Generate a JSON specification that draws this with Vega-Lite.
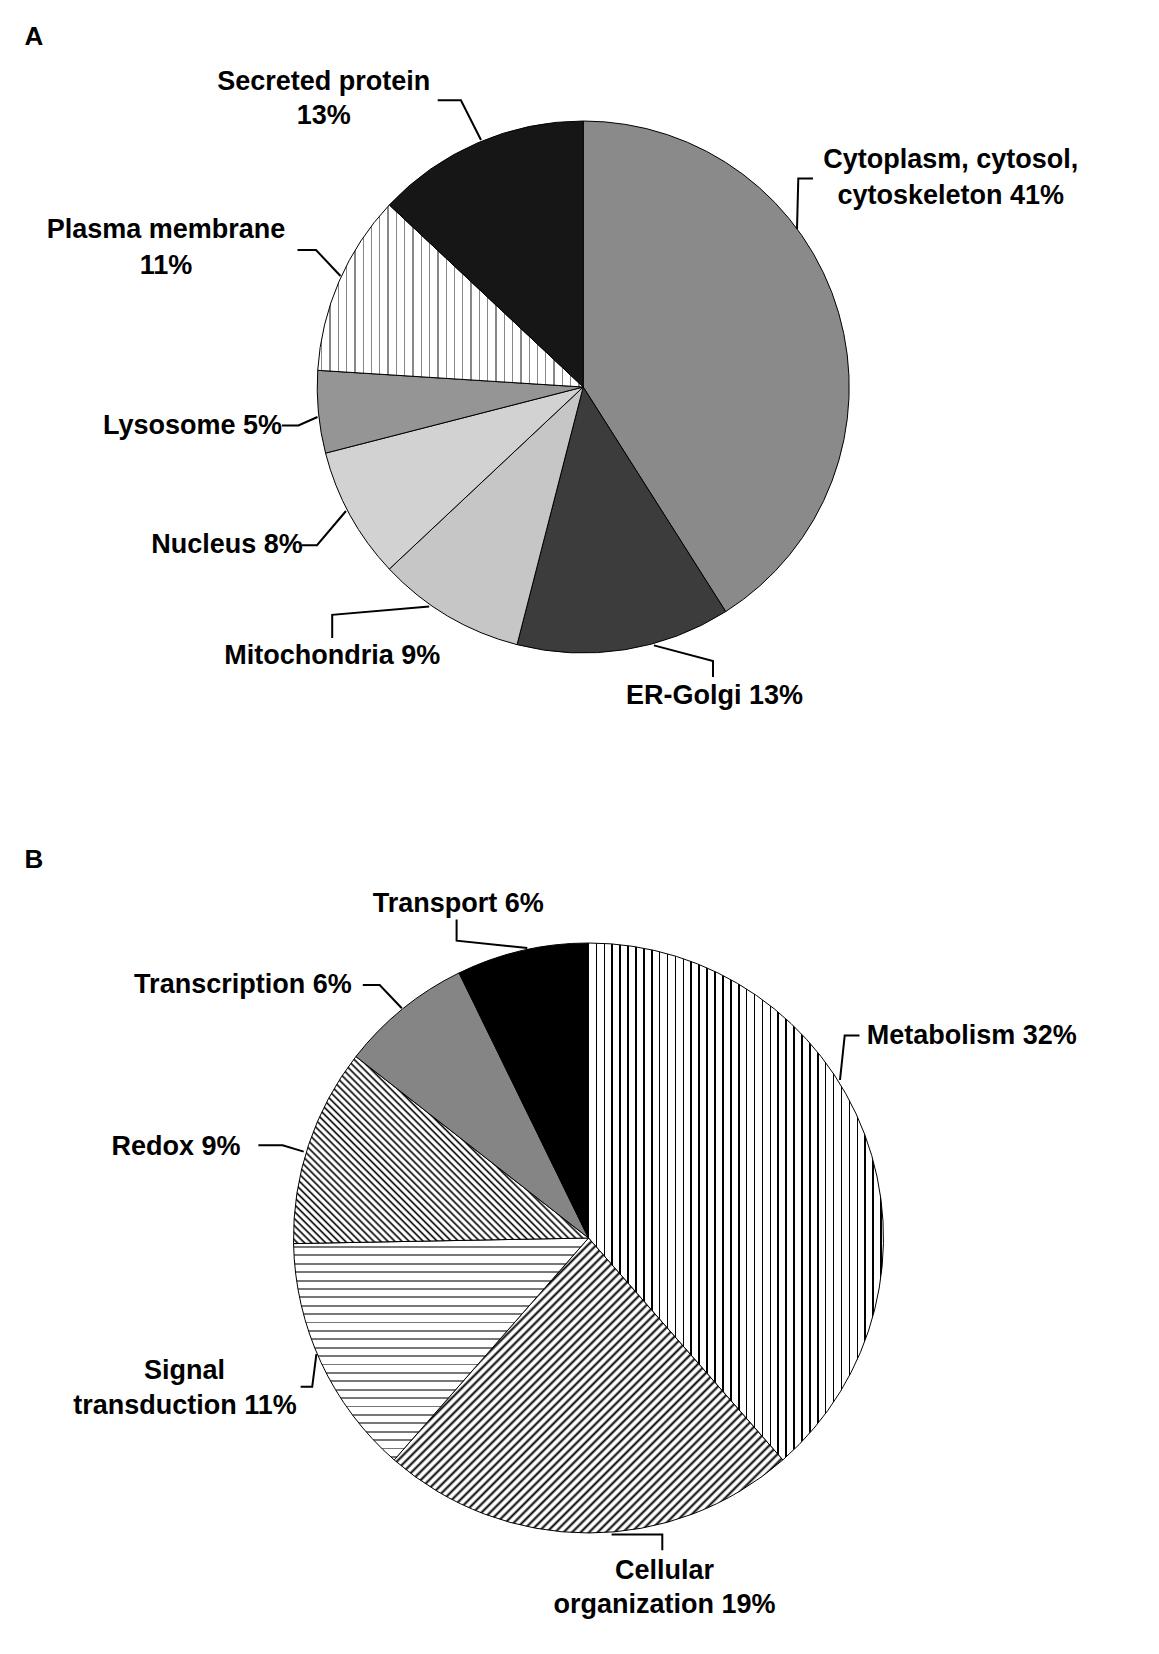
{
  "$schema": "https://vega.github.io/schema/vega-lite/v6.json",
  "width": 1159,
  "height": 1654,
  "padding": 0,
  "autosize": {"type": "none"},
  "background": "white",
  "config": {"view": {"stroke": null}},
  "datasets": {
    "slices": [
      {"panel": "A", "order": 1, "name": "Cytoplasm, cytosol, cytoskeleton", "value": 41},
      {"panel": "A", "order": 2, "name": "ER-Golgi", "value": 13},
      {"panel": "A", "order": 3, "name": "Mitochondria", "value": 9},
      {"panel": "A", "order": 4, "name": "Nucleus", "value": 8},
      {"panel": "A", "order": 5, "name": "Lysosome", "value": 5},
      {"panel": "A", "order": 6, "name": "Plasma membrane", "value": 11},
      {"panel": "A", "order": 7, "name": "Secreted protein", "value": 13},
      {"panel": "B", "order": 1, "name": "Metabolism", "value": 32},
      {"panel": "B", "order": 2, "name": "Cellular organization", "value": 19},
      {"panel": "B", "order": 3, "name": "Signal transduction", "value": 11},
      {"panel": "B", "order": 4, "name": "Redox", "value": 9},
      {"panel": "B", "order": 5, "name": "Transcription", "value": 6},
      {"panel": "B", "order": 6, "name": "Transport", "value": 6}
    ],
    "labels": [
      {"text": "Secreted protein", "x": 323.8, "y": 82.3},
      {"text": "13%", "x": 323.8, "y": 116},
      {"text": "Cytoplasm, cytosol,", "x": 950.7, "y": 160},
      {"text": "cytoskeleton 41%", "x": 950.7, "y": 196},
      {"text": "Plasma membrane", "x": 166, "y": 230},
      {"text": "11%", "x": 166, "y": 265.8},
      {"text": "Lysosome 5%", "x": 192.5, "y": 426},
      {"text": "Nucleus 8%", "x": 227.1, "y": 545.2},
      {"text": "Mitochondria 9%", "x": 332.2, "y": 656},
      {"text": "ER-Golgi 13%", "x": 714.5, "y": 696},
      {"text": "Transport 6%", "x": 458.2, "y": 903.8},
      {"text": "Transcription 6%", "x": 242.9, "y": 985},
      {"text": "Metabolism 32%", "x": 971.8, "y": 1035.6},
      {"text": "Redox 9%", "x": 175.9, "y": 1147.4},
      {"text": "Signal", "x": 184.6, "y": 1371},
      {"text": "transduction 11%", "x": 185.1, "y": 1405.8},
      {"text": "Cellular", "x": 664.4, "y": 1571.4},
      {"text": "organization 19%", "x": 664.4, "y": 1605.1}
    ],
    "panels": [
      {"text": "A", "x": 34, "y": 37},
      {"text": "B", "x": 34, "y": 860}
    ],
    "leaders": [
      {"id": "sec", "seq": 1, "x": 437.7, "y": 100.2},
      {"id": "sec", "seq": 2, "x": 460.9, "y": 100.2},
      {"id": "sec", "seq": 3, "x": 481, "y": 140},
      {"id": "cyt", "seq": 1, "x": 813, "y": 178.5},
      {"id": "cyt", "seq": 2, "x": 798.3, "y": 178.5},
      {"id": "cyt", "seq": 3, "x": 797, "y": 229},
      {"id": "pla", "seq": 1, "x": 297.5, "y": 250},
      {"id": "pla", "seq": 2, "x": 316, "y": 250},
      {"id": "pla", "seq": 3, "x": 340.5, "y": 276},
      {"id": "lys", "seq": 1, "x": 282, "y": 425.5},
      {"id": "lys", "seq": 2, "x": 298.4, "y": 425.5},
      {"id": "lys", "seq": 3, "x": 317.5, "y": 417},
      {"id": "nuc", "seq": 1, "x": 302, "y": 545.2},
      {"id": "nuc", "seq": 2, "x": 317, "y": 545.2},
      {"id": "nuc", "seq": 3, "x": 346, "y": 511},
      {"id": "mit", "seq": 1, "x": 332.2, "y": 638},
      {"id": "mit", "seq": 2, "x": 332.2, "y": 614.8},
      {"id": "mit", "seq": 3, "x": 429.2, "y": 606.4},
      {"id": "erg", "seq": 1, "x": 713, "y": 677},
      {"id": "erg", "seq": 2, "x": 713, "y": 661},
      {"id": "erg", "seq": 3, "x": 653.9, "y": 645.4},
      {"id": "tra", "seq": 1, "x": 456.6, "y": 919.6},
      {"id": "tra", "seq": 2, "x": 456.6, "y": 940.7},
      {"id": "tra", "seq": 3, "x": 527.3, "y": 948.1},
      {"id": "tsc", "seq": 1, "x": 362.8, "y": 985},
      {"id": "tsc", "seq": 2, "x": 379.7, "y": 985},
      {"id": "tsc", "seq": 3, "x": 401.8, "y": 1008.2},
      {"id": "met", "seq": 1, "x": 859.5, "y": 1035.6},
      {"id": "met", "seq": 2, "x": 844.7, "y": 1035.6},
      {"id": "met", "seq": 3, "x": 840, "y": 1080},
      {"id": "red", "seq": 1, "x": 258.4, "y": 1145.3},
      {"id": "red", "seq": 2, "x": 282.6, "y": 1145.3},
      {"id": "red", "seq": 3, "x": 303.7, "y": 1151.6},
      {"id": "sig", "seq": 1, "x": 300.6, "y": 1386.8},
      {"id": "sig", "seq": 2, "x": 312.2, "y": 1386.8},
      {"id": "sig", "seq": 3, "x": 316.4, "y": 1354.1},
      {"id": "cel", "seq": 1, "x": 611.6, "y": 1534.4},
      {"id": "cel", "seq": 2, "x": 662.3, "y": 1534.4},
      {"id": "cel", "seq": 3, "x": 662.3, "y": 1550.3}
    ]
  },
  "layer": [
    {
      "data": {"name": "slices"},
      "transform": [{"filter": "datum.panel === 'A'"}],
      "mark": {"type": "arc", "radius": 266, "stroke": "#000", "strokeWidth": 1},
      "encoding": {
        "x": {"datum": 583.2, "type": "quantitative", "scale": {"domain": [0, 1159], "nice": false, "zero": false}, "axis": null},
        "y": {"datum": 387, "type": "quantitative", "scale": {"domain": [0, 1654], "reverse": true, "nice": false, "zero": false}, "axis": null},
        "theta": {"field": "value", "type": "quantitative", "stack": true},
        "order": {"field": "order", "type": "quantitative"},
        "fill": {
          "condition": [
            {"test": "datum.name === 'Plasma membrane'", "value": {"gradient": "linear", "x1": 0, "y1": 0, "x2": 1, "y2": 0, "stops": [
              {"offset": 0.0125, "color": "#fff"}, {"offset": 0.0125, "color": "#888"}, {"offset": 0.0175, "color": "#888"}, {"offset": 0.0175, "color": "#fff"},
              {"offset": 0.0438, "color": "#fff"}, {"offset": 0.0438, "color": "#888"}, {"offset": 0.0488, "color": "#888"}, {"offset": 0.0488, "color": "#fff"},
              {"offset": 0.0750, "color": "#fff"}, {"offset": 0.0750, "color": "#888"}, {"offset": 0.0800, "color": "#888"}, {"offset": 0.0800, "color": "#fff"},
              {"offset": 0.1063, "color": "#fff"}, {"offset": 0.1063, "color": "#888"}, {"offset": 0.1113, "color": "#888"}, {"offset": 0.1113, "color": "#fff"},
              {"offset": 0.1375, "color": "#fff"}, {"offset": 0.1375, "color": "#888"}, {"offset": 0.1425, "color": "#888"}, {"offset": 0.1425, "color": "#fff"},
              {"offset": 0.1688, "color": "#fff"}, {"offset": 0.1688, "color": "#888"}, {"offset": 0.1738, "color": "#888"}, {"offset": 0.1738, "color": "#fff"},
              {"offset": 0.2001, "color": "#fff"}, {"offset": 0.2001, "color": "#888"}, {"offset": 0.2051, "color": "#888"}, {"offset": 0.2051, "color": "#fff"},
              {"offset": 0.2313, "color": "#fff"}, {"offset": 0.2313, "color": "#888"}, {"offset": 0.2363, "color": "#888"}, {"offset": 0.2363, "color": "#fff"},
              {"offset": 0.2626, "color": "#fff"}, {"offset": 0.2626, "color": "#888"}, {"offset": 0.2676, "color": "#888"}, {"offset": 0.2676, "color": "#fff"},
              {"offset": 0.2938, "color": "#fff"}, {"offset": 0.2938, "color": "#888"}, {"offset": 0.2988, "color": "#888"}, {"offset": 0.2988, "color": "#fff"},
              {"offset": 0.3251, "color": "#fff"}, {"offset": 0.3251, "color": "#888"}, {"offset": 0.3301, "color": "#888"}, {"offset": 0.3301, "color": "#fff"},
              {"offset": 0.3564, "color": "#fff"}, {"offset": 0.3564, "color": "#888"}, {"offset": 0.3614, "color": "#888"}, {"offset": 0.3614, "color": "#fff"},
              {"offset": 0.3876, "color": "#fff"}, {"offset": 0.3876, "color": "#888"}, {"offset": 0.3926, "color": "#888"}, {"offset": 0.3926, "color": "#fff"},
              {"offset": 0.4189, "color": "#fff"}, {"offset": 0.4189, "color": "#888"}, {"offset": 0.4239, "color": "#888"}, {"offset": 0.4239, "color": "#fff"},
              {"offset": 0.4501, "color": "#fff"}, {"offset": 0.4501, "color": "#888"}, {"offset": 0.4551, "color": "#888"}, {"offset": 0.4551, "color": "#fff"},
              {"offset": 0.4814, "color": "#fff"}, {"offset": 0.4814, "color": "#888"}, {"offset": 0.4864, "color": "#888"}, {"offset": 0.4864, "color": "#fff"},
              {"offset": 0.5127, "color": "#fff"}, {"offset": 0.5127, "color": "#888"}, {"offset": 0.5177, "color": "#888"}, {"offset": 0.5177, "color": "#fff"},
              {"offset": 0.5439, "color": "#fff"}, {"offset": 0.5439, "color": "#888"}, {"offset": 0.5489, "color": "#888"}, {"offset": 0.5489, "color": "#fff"},
              {"offset": 0.5752, "color": "#fff"}, {"offset": 0.5752, "color": "#888"}, {"offset": 0.5802, "color": "#888"}, {"offset": 0.5802, "color": "#fff"},
              {"offset": 0.6064, "color": "#fff"}, {"offset": 0.6064, "color": "#888"}, {"offset": 0.6114, "color": "#888"}, {"offset": 0.6114, "color": "#fff"},
              {"offset": 0.6377, "color": "#fff"}, {"offset": 0.6377, "color": "#888"}, {"offset": 0.6427, "color": "#888"}, {"offset": 0.6427, "color": "#fff"},
              {"offset": 0.6690, "color": "#fff"}, {"offset": 0.6690, "color": "#888"}, {"offset": 0.6740, "color": "#888"}, {"offset": 0.6740, "color": "#fff"},
              {"offset": 0.7002, "color": "#fff"}, {"offset": 0.7002, "color": "#888"}, {"offset": 0.7052, "color": "#888"}, {"offset": 0.7052, "color": "#fff"},
              {"offset": 0.7315, "color": "#fff"}, {"offset": 0.7315, "color": "#888"}, {"offset": 0.7365, "color": "#888"}, {"offset": 0.7365, "color": "#fff"},
              {"offset": 0.7627, "color": "#fff"}, {"offset": 0.7627, "color": "#888"}, {"offset": 0.7677, "color": "#888"}, {"offset": 0.7677, "color": "#fff"},
              {"offset": 0.7940, "color": "#fff"}, {"offset": 0.7940, "color": "#888"}, {"offset": 0.7990, "color": "#888"}, {"offset": 0.7990, "color": "#fff"},
              {"offset": 0.8253, "color": "#fff"}, {"offset": 0.8253, "color": "#888"}, {"offset": 0.8303, "color": "#888"}, {"offset": 0.8303, "color": "#fff"},
              {"offset": 0.8565, "color": "#fff"}, {"offset": 0.8565, "color": "#888"}, {"offset": 0.8615, "color": "#888"}, {"offset": 0.8615, "color": "#fff"},
              {"offset": 0.8878, "color": "#fff"}, {"offset": 0.8878, "color": "#888"}, {"offset": 0.8928, "color": "#888"}, {"offset": 0.8928, "color": "#fff"},
              {"offset": 0.9190, "color": "#fff"}, {"offset": 0.9190, "color": "#888"}, {"offset": 0.9240, "color": "#888"}, {"offset": 0.9240, "color": "#fff"},
              {"offset": 0.9503, "color": "#fff"}, {"offset": 0.9503, "color": "#888"}, {"offset": 0.9553, "color": "#888"}, {"offset": 0.9553, "color": "#fff"},
              {"offset": 0.9816, "color": "#fff"}, {"offset": 0.9816, "color": "#888"}, {"offset": 0.9866, "color": "#888"}, {"offset": 0.9866, "color": "#fff"}
            ]}}
          ],
          "field": "name",
          "type": "nominal",
          "legend": null,
          "scale": {
            "domain": ["Cytoplasm, cytosol, cytoskeleton", "ER-Golgi", "Mitochondria", "Nucleus", "Lysosome", "Plasma membrane", "Secreted protein", "Metabolism", "Cellular organization", "Signal transduction", "Redox", "Transcription", "Transport"],
            "range": ["#8a8a8a", "#3c3c3c", "#c6c6c6", "#d2d2d2", "#959595", "#eeeeee", "#161616", "#dddddd", "#9a9a9a", "#e2e2e2", "#a4a4a4", "#858585", "#000000"]
          }
        }
      }
    },
    {
      "data": {"name": "slices"},
      "transform": [{"filter": "datum.panel === 'B'"}],
      "mark": {"type": "arc", "radius": 295, "stroke": "#000", "strokeWidth": 1},
      "encoding": {
        "x": {"datum": 588.5, "type": "quantitative", "scale": {"domain": [0, 1159], "nice": false, "zero": false}, "axis": null},
        "y": {"datum": 1238, "type": "quantitative", "scale": {"domain": [0, 1654], "reverse": true, "nice": false, "zero": false}, "axis": null},
        "theta": {"field": "value", "type": "quantitative", "stack": true},
        "order": {"field": "order", "type": "quantitative"},
        "fill": {
          "condition": [
            {"test": "datum.name === 'Metabolism'", "value": {"gradient": "linear", "x1": 0, "y1": 0, "x2": 1, "y2": 0, "stops": [
              {"offset": 0.0241, "color": "#fff"}, {"offset": 0.0241, "color": "#000"}, {"offset": 0.0295, "color": "#000"}, {"offset": 0.0295, "color": "#fff"},
              {"offset": 0.0509, "color": "#fff"}, {"offset": 0.0509, "color": "#000"}, {"offset": 0.0563, "color": "#000"}, {"offset": 0.0563, "color": "#fff"},
              {"offset": 0.0777, "color": "#fff"}, {"offset": 0.0777, "color": "#000"}, {"offset": 0.0831, "color": "#000"}, {"offset": 0.0831, "color": "#fff"},
              {"offset": 0.1045, "color": "#fff"}, {"offset": 0.1045, "color": "#000"}, {"offset": 0.1099, "color": "#000"}, {"offset": 0.1099, "color": "#fff"},
              {"offset": 0.1313, "color": "#fff"}, {"offset": 0.1313, "color": "#000"}, {"offset": 0.1367, "color": "#000"}, {"offset": 0.1367, "color": "#fff"},
              {"offset": 0.1581, "color": "#fff"}, {"offset": 0.1581, "color": "#000"}, {"offset": 0.1635, "color": "#000"}, {"offset": 0.1635, "color": "#fff"},
              {"offset": 0.1849, "color": "#fff"}, {"offset": 0.1849, "color": "#000"}, {"offset": 0.1903, "color": "#000"}, {"offset": 0.1903, "color": "#fff"},
              {"offset": 0.2117, "color": "#fff"}, {"offset": 0.2117, "color": "#000"}, {"offset": 0.2171, "color": "#000"}, {"offset": 0.2171, "color": "#fff"},
              {"offset": 0.2385, "color": "#fff"}, {"offset": 0.2385, "color": "#000"}, {"offset": 0.2439, "color": "#000"}, {"offset": 0.2439, "color": "#fff"},
              {"offset": 0.2653, "color": "#fff"}, {"offset": 0.2653, "color": "#000"}, {"offset": 0.2707, "color": "#000"}, {"offset": 0.2707, "color": "#fff"},
              {"offset": 0.2921, "color": "#fff"}, {"offset": 0.2921, "color": "#000"}, {"offset": 0.2975, "color": "#000"}, {"offset": 0.2975, "color": "#fff"},
              {"offset": 0.3189, "color": "#fff"}, {"offset": 0.3189, "color": "#000"}, {"offset": 0.3243, "color": "#000"}, {"offset": 0.3243, "color": "#fff"},
              {"offset": 0.3457, "color": "#fff"}, {"offset": 0.3457, "color": "#000"}, {"offset": 0.3511, "color": "#000"}, {"offset": 0.3511, "color": "#fff"},
              {"offset": 0.3725, "color": "#fff"}, {"offset": 0.3725, "color": "#000"}, {"offset": 0.3779, "color": "#000"}, {"offset": 0.3779, "color": "#fff"},
              {"offset": 0.3993, "color": "#fff"}, {"offset": 0.3993, "color": "#000"}, {"offset": 0.4047, "color": "#000"}, {"offset": 0.4047, "color": "#fff"},
              {"offset": 0.4261, "color": "#fff"}, {"offset": 0.4261, "color": "#000"}, {"offset": 0.4315, "color": "#000"}, {"offset": 0.4315, "color": "#fff"},
              {"offset": 0.4529, "color": "#fff"}, {"offset": 0.4529, "color": "#000"}, {"offset": 0.4583, "color": "#000"}, {"offset": 0.4583, "color": "#fff"},
              {"offset": 0.4797, "color": "#fff"}, {"offset": 0.4797, "color": "#000"}, {"offset": 0.4851, "color": "#000"}, {"offset": 0.4851, "color": "#fff"},
              {"offset": 0.5065, "color": "#fff"}, {"offset": 0.5065, "color": "#000"}, {"offset": 0.5119, "color": "#000"}, {"offset": 0.5119, "color": "#fff"},
              {"offset": 0.5333, "color": "#fff"}, {"offset": 0.5333, "color": "#000"}, {"offset": 0.5387, "color": "#000"}, {"offset": 0.5387, "color": "#fff"},
              {"offset": 0.5601, "color": "#fff"}, {"offset": 0.5601, "color": "#000"}, {"offset": 0.5655, "color": "#000"}, {"offset": 0.5655, "color": "#fff"},
              {"offset": 0.5869, "color": "#fff"}, {"offset": 0.5869, "color": "#000"}, {"offset": 0.5923, "color": "#000"}, {"offset": 0.5923, "color": "#fff"},
              {"offset": 0.6137, "color": "#fff"}, {"offset": 0.6137, "color": "#000"}, {"offset": 0.6191, "color": "#000"}, {"offset": 0.6191, "color": "#fff"},
              {"offset": 0.6405, "color": "#fff"}, {"offset": 0.6405, "color": "#000"}, {"offset": 0.6459, "color": "#000"}, {"offset": 0.6459, "color": "#fff"},
              {"offset": 0.6673, "color": "#fff"}, {"offset": 0.6673, "color": "#000"}, {"offset": 0.6727, "color": "#000"}, {"offset": 0.6727, "color": "#fff"},
              {"offset": 0.6941, "color": "#fff"}, {"offset": 0.6941, "color": "#000"}, {"offset": 0.6995, "color": "#000"}, {"offset": 0.6995, "color": "#fff"},
              {"offset": 0.7209, "color": "#fff"}, {"offset": 0.7209, "color": "#000"}, {"offset": 0.7263, "color": "#000"}, {"offset": 0.7263, "color": "#fff"},
              {"offset": 0.7477, "color": "#fff"}, {"offset": 0.7477, "color": "#000"}, {"offset": 0.7531, "color": "#000"}, {"offset": 0.7531, "color": "#fff"},
              {"offset": 0.7745, "color": "#fff"}, {"offset": 0.7745, "color": "#000"}, {"offset": 0.7799, "color": "#000"}, {"offset": 0.7799, "color": "#fff"},
              {"offset": 0.8013, "color": "#fff"}, {"offset": 0.8013, "color": "#000"}, {"offset": 0.8067, "color": "#000"}, {"offset": 0.8067, "color": "#fff"},
              {"offset": 0.8281, "color": "#fff"}, {"offset": 0.8281, "color": "#000"}, {"offset": 0.8335, "color": "#000"}, {"offset": 0.8335, "color": "#fff"},
              {"offset": 0.8549, "color": "#fff"}, {"offset": 0.8549, "color": "#000"}, {"offset": 0.8603, "color": "#000"}, {"offset": 0.8603, "color": "#fff"},
              {"offset": 0.8817, "color": "#fff"}, {"offset": 0.8817, "color": "#000"}, {"offset": 0.8871, "color": "#000"}, {"offset": 0.8871, "color": "#fff"},
              {"offset": 0.9085, "color": "#fff"}, {"offset": 0.9085, "color": "#000"}, {"offset": 0.9139, "color": "#000"}, {"offset": 0.9139, "color": "#fff"},
              {"offset": 0.9353, "color": "#fff"}, {"offset": 0.9353, "color": "#000"}, {"offset": 0.9407, "color": "#000"}, {"offset": 0.9407, "color": "#fff"},
              {"offset": 0.9621, "color": "#fff"}, {"offset": 0.9621, "color": "#000"}, {"offset": 0.9675, "color": "#000"}, {"offset": 0.9675, "color": "#fff"},
              {"offset": 0.9889, "color": "#fff"}, {"offset": 0.9889, "color": "#000"}, {"offset": 0.9943, "color": "#000"}, {"offset": 0.9943, "color": "#fff"}
            ]}},
            {"test": "datum.name === 'Signal transduction'", "value": {"gradient": "linear", "x1": 0, "y1": 0, "x2": 0, "y2": 1, "stops": [
              {"offset": 0.0364, "color": "#fff"}, {"offset": 0.0364, "color": "#777"}, {"offset": 0.0446, "color": "#777"}, {"offset": 0.0446, "color": "#fff"},
              {"offset": 0.0743, "color": "#fff"}, {"offset": 0.0743, "color": "#777"}, {"offset": 0.0825, "color": "#777"}, {"offset": 0.0825, "color": "#fff"},
              {"offset": 0.1121, "color": "#fff"}, {"offset": 0.1121, "color": "#777"}, {"offset": 0.1203, "color": "#777"}, {"offset": 0.1203, "color": "#fff"},
              {"offset": 0.1500, "color": "#fff"}, {"offset": 0.1500, "color": "#777"}, {"offset": 0.1582, "color": "#777"}, {"offset": 0.1582, "color": "#fff"},
              {"offset": 0.1878, "color": "#fff"}, {"offset": 0.1878, "color": "#777"}, {"offset": 0.1960, "color": "#777"}, {"offset": 0.1960, "color": "#fff"},
              {"offset": 0.2256, "color": "#fff"}, {"offset": 0.2256, "color": "#777"}, {"offset": 0.2338, "color": "#777"}, {"offset": 0.2338, "color": "#fff"},
              {"offset": 0.2635, "color": "#fff"}, {"offset": 0.2635, "color": "#777"}, {"offset": 0.2717, "color": "#777"}, {"offset": 0.2717, "color": "#fff"},
              {"offset": 0.3013, "color": "#fff"}, {"offset": 0.3013, "color": "#777"}, {"offset": 0.3095, "color": "#777"}, {"offset": 0.3095, "color": "#fff"},
              {"offset": 0.3392, "color": "#fff"}, {"offset": 0.3392, "color": "#777"}, {"offset": 0.3474, "color": "#777"}, {"offset": 0.3474, "color": "#fff"},
              {"offset": 0.3770, "color": "#fff"}, {"offset": 0.3770, "color": "#777"}, {"offset": 0.3852, "color": "#777"}, {"offset": 0.3852, "color": "#fff"},
              {"offset": 0.4148, "color": "#fff"}, {"offset": 0.4148, "color": "#777"}, {"offset": 0.4230, "color": "#777"}, {"offset": 0.4230, "color": "#fff"},
              {"offset": 0.4527, "color": "#fff"}, {"offset": 0.4527, "color": "#777"}, {"offset": 0.4609, "color": "#777"}, {"offset": 0.4609, "color": "#fff"},
              {"offset": 0.4905, "color": "#fff"}, {"offset": 0.4905, "color": "#777"}, {"offset": 0.4987, "color": "#777"}, {"offset": 0.4987, "color": "#fff"},
              {"offset": 0.5284, "color": "#fff"}, {"offset": 0.5284, "color": "#777"}, {"offset": 0.5366, "color": "#777"}, {"offset": 0.5366, "color": "#fff"},
              {"offset": 0.5662, "color": "#fff"}, {"offset": 0.5662, "color": "#777"}, {"offset": 0.5744, "color": "#777"}, {"offset": 0.5744, "color": "#fff"},
              {"offset": 0.6040, "color": "#fff"}, {"offset": 0.6040, "color": "#777"}, {"offset": 0.6122, "color": "#777"}, {"offset": 0.6122, "color": "#fff"},
              {"offset": 0.6419, "color": "#fff"}, {"offset": 0.6419, "color": "#777"}, {"offset": 0.6501, "color": "#777"}, {"offset": 0.6501, "color": "#fff"},
              {"offset": 0.6797, "color": "#fff"}, {"offset": 0.6797, "color": "#777"}, {"offset": 0.6879, "color": "#777"}, {"offset": 0.6879, "color": "#fff"},
              {"offset": 0.7176, "color": "#fff"}, {"offset": 0.7176, "color": "#777"}, {"offset": 0.7258, "color": "#777"}, {"offset": 0.7258, "color": "#fff"},
              {"offset": 0.7554, "color": "#fff"}, {"offset": 0.7554, "color": "#777"}, {"offset": 0.7636, "color": "#777"}, {"offset": 0.7636, "color": "#fff"},
              {"offset": 0.7932, "color": "#fff"}, {"offset": 0.7932, "color": "#777"}, {"offset": 0.8014, "color": "#777"}, {"offset": 0.8014, "color": "#fff"},
              {"offset": 0.8311, "color": "#fff"}, {"offset": 0.8311, "color": "#777"}, {"offset": 0.8393, "color": "#777"}, {"offset": 0.8393, "color": "#fff"},
              {"offset": 0.8689, "color": "#fff"}, {"offset": 0.8689, "color": "#777"}, {"offset": 0.8771, "color": "#777"}, {"offset": 0.8771, "color": "#fff"},
              {"offset": 0.9068, "color": "#fff"}, {"offset": 0.9068, "color": "#777"}, {"offset": 0.9150, "color": "#777"}, {"offset": 0.9150, "color": "#fff"},
              {"offset": 0.9446, "color": "#fff"}, {"offset": 0.9446, "color": "#777"}, {"offset": 0.9528, "color": "#777"}, {"offset": 0.9528, "color": "#fff"},
              {"offset": 0.9824, "color": "#fff"}, {"offset": 0.9824, "color": "#777"}, {"offset": 0.9906, "color": "#777"}, {"offset": 0.9906, "color": "#fff"}
            ]}},
            {"test": "datum.name === 'Redox'", "value": {"gradient": "linear", "x1": 0, "y1": 1, "x2": 1.1652, "y2": 0.2602, "stops": [
              {"offset": 0.0050, "color": "#fff"}, {"offset": 0.0097, "color": "#000"}, {"offset": 0.0144, "color": "#fff"},
              {"offset": 0.0197, "color": "#fff"}, {"offset": 0.0244, "color": "#000"}, {"offset": 0.0291, "color": "#fff"},
              {"offset": 0.0343, "color": "#fff"}, {"offset": 0.0390, "color": "#000"}, {"offset": 0.0437, "color": "#fff"},
              {"offset": 0.0490, "color": "#fff"}, {"offset": 0.0537, "color": "#000"}, {"offset": 0.0584, "color": "#fff"},
              {"offset": 0.0636, "color": "#fff"}, {"offset": 0.0683, "color": "#000"}, {"offset": 0.0730, "color": "#fff"},
              {"offset": 0.0783, "color": "#fff"}, {"offset": 0.0830, "color": "#000"}, {"offset": 0.0877, "color": "#fff"},
              {"offset": 0.0930, "color": "#fff"}, {"offset": 0.0977, "color": "#000"}, {"offset": 0.1024, "color": "#fff"},
              {"offset": 0.1076, "color": "#fff"}, {"offset": 0.1123, "color": "#000"}, {"offset": 0.1170, "color": "#fff"},
              {"offset": 0.1223, "color": "#fff"}, {"offset": 0.1270, "color": "#000"}, {"offset": 0.1317, "color": "#fff"},
              {"offset": 0.1369, "color": "#fff"}, {"offset": 0.1416, "color": "#000"}, {"offset": 0.1463, "color": "#fff"},
              {"offset": 0.1516, "color": "#fff"}, {"offset": 0.1563, "color": "#000"}, {"offset": 0.1610, "color": "#fff"},
              {"offset": 0.1663, "color": "#fff"}, {"offset": 0.1710, "color": "#000"}, {"offset": 0.1757, "color": "#fff"},
              {"offset": 0.1809, "color": "#fff"}, {"offset": 0.1856, "color": "#000"}, {"offset": 0.1903, "color": "#fff"},
              {"offset": 0.1956, "color": "#fff"}, {"offset": 0.2003, "color": "#000"}, {"offset": 0.2050, "color": "#fff"},
              {"offset": 0.2102, "color": "#fff"}, {"offset": 0.2149, "color": "#000"}, {"offset": 0.2196, "color": "#fff"},
              {"offset": 0.2249, "color": "#fff"}, {"offset": 0.2296, "color": "#000"}, {"offset": 0.2343, "color": "#fff"},
              {"offset": 0.2396, "color": "#fff"}, {"offset": 0.2443, "color": "#000"}, {"offset": 0.2490, "color": "#fff"},
              {"offset": 0.2542, "color": "#fff"}, {"offset": 0.2589, "color": "#000"}, {"offset": 0.2636, "color": "#fff"},
              {"offset": 0.2689, "color": "#fff"}, {"offset": 0.2736, "color": "#000"}, {"offset": 0.2783, "color": "#fff"},
              {"offset": 0.2835, "color": "#fff"}, {"offset": 0.2882, "color": "#000"}, {"offset": 0.2929, "color": "#fff"},
              {"offset": 0.2982, "color": "#fff"}, {"offset": 0.3029, "color": "#000"}, {"offset": 0.3076, "color": "#fff"},
              {"offset": 0.3129, "color": "#fff"}, {"offset": 0.3176, "color": "#000"}, {"offset": 0.3223, "color": "#fff"},
              {"offset": 0.3275, "color": "#fff"}, {"offset": 0.3322, "color": "#000"}, {"offset": 0.3369, "color": "#fff"},
              {"offset": 0.3422, "color": "#fff"}, {"offset": 0.3469, "color": "#000"}, {"offset": 0.3516, "color": "#fff"},
              {"offset": 0.3568, "color": "#fff"}, {"offset": 0.3615, "color": "#000"}, {"offset": 0.3662, "color": "#fff"},
              {"offset": 0.3715, "color": "#fff"}, {"offset": 0.3762, "color": "#000"}, {"offset": 0.3809, "color": "#fff"},
              {"offset": 0.3862, "color": "#fff"}, {"offset": 0.3909, "color": "#000"}, {"offset": 0.3956, "color": "#fff"},
              {"offset": 0.4008, "color": "#fff"}, {"offset": 0.4055, "color": "#000"}, {"offset": 0.4102, "color": "#fff"},
              {"offset": 0.4155, "color": "#fff"}, {"offset": 0.4202, "color": "#000"}, {"offset": 0.4249, "color": "#fff"},
              {"offset": 0.4301, "color": "#fff"}, {"offset": 0.4348, "color": "#000"}, {"offset": 0.4395, "color": "#fff"},
              {"offset": 0.4448, "color": "#fff"}, {"offset": 0.4495, "color": "#000"}, {"offset": 0.4542, "color": "#fff"},
              {"offset": 0.4595, "color": "#fff"}, {"offset": 0.4642, "color": "#000"}, {"offset": 0.4689, "color": "#fff"},
              {"offset": 0.4741, "color": "#fff"}, {"offset": 0.4788, "color": "#000"}, {"offset": 0.4835, "color": "#fff"},
              {"offset": 0.4888, "color": "#fff"}, {"offset": 0.4935, "color": "#000"}, {"offset": 0.4982, "color": "#fff"},
              {"offset": 0.5034, "color": "#fff"}, {"offset": 0.5081, "color": "#000"}, {"offset": 0.5128, "color": "#fff"},
              {"offset": 0.5181, "color": "#fff"}, {"offset": 0.5228, "color": "#000"}, {"offset": 0.5275, "color": "#fff"},
              {"offset": 0.5328, "color": "#fff"}, {"offset": 0.5375, "color": "#000"}, {"offset": 0.5422, "color": "#fff"},
              {"offset": 0.5474, "color": "#fff"}, {"offset": 0.5521, "color": "#000"}, {"offset": 0.5568, "color": "#fff"},
              {"offset": 0.5621, "color": "#fff"}, {"offset": 0.5668, "color": "#000"}, {"offset": 0.5715, "color": "#fff"},
              {"offset": 0.5767, "color": "#fff"}, {"offset": 0.5814, "color": "#000"}, {"offset": 0.5861, "color": "#fff"},
              {"offset": 0.5914, "color": "#fff"}, {"offset": 0.5961, "color": "#000"}, {"offset": 0.6008, "color": "#fff"},
              {"offset": 0.6061, "color": "#fff"}, {"offset": 0.6108, "color": "#000"}, {"offset": 0.6155, "color": "#fff"},
              {"offset": 0.6207, "color": "#fff"}, {"offset": 0.6254, "color": "#000"}, {"offset": 0.6301, "color": "#fff"},
              {"offset": 0.6354, "color": "#fff"}, {"offset": 0.6401, "color": "#000"}, {"offset": 0.6448, "color": "#fff"},
              {"offset": 0.6500, "color": "#fff"}, {"offset": 0.6547, "color": "#000"}, {"offset": 0.6594, "color": "#fff"},
              {"offset": 0.6647, "color": "#fff"}, {"offset": 0.6694, "color": "#000"}, {"offset": 0.6741, "color": "#fff"},
              {"offset": 0.6794, "color": "#fff"}, {"offset": 0.6841, "color": "#000"}, {"offset": 0.6888, "color": "#fff"},
              {"offset": 0.6940, "color": "#fff"}, {"offset": 0.6987, "color": "#000"}, {"offset": 0.7034, "color": "#fff"},
              {"offset": 0.7087, "color": "#fff"}, {"offset": 0.7134, "color": "#000"}, {"offset": 0.7181, "color": "#fff"},
              {"offset": 0.7233, "color": "#fff"}, {"offset": 0.7280, "color": "#000"}, {"offset": 0.7327, "color": "#fff"},
              {"offset": 0.7380, "color": "#fff"}, {"offset": 0.7427, "color": "#000"}, {"offset": 0.7474, "color": "#fff"},
              {"offset": 0.7527, "color": "#fff"}, {"offset": 0.7574, "color": "#000"}, {"offset": 0.7621, "color": "#fff"},
              {"offset": 0.7673, "color": "#fff"}, {"offset": 0.7720, "color": "#000"}, {"offset": 0.7767, "color": "#fff"},
              {"offset": 0.7820, "color": "#fff"}, {"offset": 0.7867, "color": "#000"}, {"offset": 0.7914, "color": "#fff"},
              {"offset": 0.7966, "color": "#fff"}, {"offset": 0.8013, "color": "#000"}, {"offset": 0.8060, "color": "#fff"},
              {"offset": 0.8113, "color": "#fff"}, {"offset": 0.8160, "color": "#000"}, {"offset": 0.8207, "color": "#fff"},
              {"offset": 0.8260, "color": "#fff"}, {"offset": 0.8307, "color": "#000"}, {"offset": 0.8354, "color": "#fff"},
              {"offset": 0.8406, "color": "#fff"}, {"offset": 0.8453, "color": "#000"}, {"offset": 0.8500, "color": "#fff"},
              {"offset": 0.8553, "color": "#fff"}, {"offset": 0.8600, "color": "#000"}, {"offset": 0.8647, "color": "#fff"},
              {"offset": 0.8699, "color": "#fff"}, {"offset": 0.8746, "color": "#000"}, {"offset": 0.8793, "color": "#fff"},
              {"offset": 0.8846, "color": "#fff"}, {"offset": 0.8893, "color": "#000"}, {"offset": 0.8940, "color": "#fff"},
              {"offset": 0.8993, "color": "#fff"}, {"offset": 0.9040, "color": "#000"}, {"offset": 0.9087, "color": "#fff"},
              {"offset": 0.9139, "color": "#fff"}, {"offset": 0.9186, "color": "#000"}, {"offset": 0.9233, "color": "#fff"},
              {"offset": 0.9286, "color": "#fff"}, {"offset": 0.9333, "color": "#000"}, {"offset": 0.9380, "color": "#fff"},
              {"offset": 0.9432, "color": "#fff"}, {"offset": 0.9479, "color": "#000"}, {"offset": 0.9526, "color": "#fff"},
              {"offset": 0.9579, "color": "#fff"}, {"offset": 0.9626, "color": "#000"}, {"offset": 0.9673, "color": "#fff"},
              {"offset": 0.9726, "color": "#fff"}, {"offset": 0.9773, "color": "#000"}, {"offset": 0.9820, "color": "#fff"},
              {"offset": 0.9872, "color": "#fff"}, {"offset": 0.9919, "color": "#000"}, {"offset": 0.9966, "color": "#fff"}
            ]}},
            {"test": "datum.name === 'Cellular organization'", "value": {"gradient": "linear", "x1": 0, "y1": 0, "x2": 1.116, "y2": 0.8472, "stops": [
              {"offset": 0.0040, "color": "#fff"}, {"offset": 0.0081, "color": "#000"}, {"offset": 0.0123, "color": "#fff"},
              {"offset": 0.0164, "color": "#fff"}, {"offset": 0.0205, "color": "#000"}, {"offset": 0.0247, "color": "#fff"},
              {"offset": 0.0288, "color": "#fff"}, {"offset": 0.0329, "color": "#000"}, {"offset": 0.0371, "color": "#fff"},
              {"offset": 0.0412, "color": "#fff"}, {"offset": 0.0453, "color": "#000"}, {"offset": 0.0495, "color": "#fff"},
              {"offset": 0.0536, "color": "#fff"}, {"offset": 0.0577, "color": "#000"}, {"offset": 0.0619, "color": "#fff"},
              {"offset": 0.0661, "color": "#fff"}, {"offset": 0.0702, "color": "#000"}, {"offset": 0.0744, "color": "#fff"},
              {"offset": 0.0785, "color": "#fff"}, {"offset": 0.0826, "color": "#000"}, {"offset": 0.0868, "color": "#fff"},
              {"offset": 0.0909, "color": "#fff"}, {"offset": 0.0950, "color": "#000"}, {"offset": 0.0992, "color": "#fff"},
              {"offset": 0.1033, "color": "#fff"}, {"offset": 0.1074, "color": "#000"}, {"offset": 0.1116, "color": "#fff"},
              {"offset": 0.1157, "color": "#fff"}, {"offset": 0.1198, "color": "#000"}, {"offset": 0.1240, "color": "#fff"},
              {"offset": 0.1281, "color": "#fff"}, {"offset": 0.1322, "color": "#000"}, {"offset": 0.1364, "color": "#fff"},
              {"offset": 0.1405, "color": "#fff"}, {"offset": 0.1446, "color": "#000"}, {"offset": 0.1488, "color": "#fff"},
              {"offset": 0.1529, "color": "#fff"}, {"offset": 0.1570, "color": "#000"}, {"offset": 0.1612, "color": "#fff"},
              {"offset": 0.1654, "color": "#fff"}, {"offset": 0.1695, "color": "#000"}, {"offset": 0.1737, "color": "#fff"},
              {"offset": 0.1778, "color": "#fff"}, {"offset": 0.1819, "color": "#000"}, {"offset": 0.1861, "color": "#fff"},
              {"offset": 0.1902, "color": "#fff"}, {"offset": 0.1943, "color": "#000"}, {"offset": 0.1985, "color": "#fff"},
              {"offset": 0.2026, "color": "#fff"}, {"offset": 0.2067, "color": "#000"}, {"offset": 0.2109, "color": "#fff"},
              {"offset": 0.2150, "color": "#fff"}, {"offset": 0.2191, "color": "#000"}, {"offset": 0.2233, "color": "#fff"},
              {"offset": 0.2274, "color": "#fff"}, {"offset": 0.2315, "color": "#000"}, {"offset": 0.2357, "color": "#fff"},
              {"offset": 0.2398, "color": "#fff"}, {"offset": 0.2439, "color": "#000"}, {"offset": 0.2481, "color": "#fff"},
              {"offset": 0.2522, "color": "#fff"}, {"offset": 0.2563, "color": "#000"}, {"offset": 0.2605, "color": "#fff"},
              {"offset": 0.2647, "color": "#fff"}, {"offset": 0.2688, "color": "#000"}, {"offset": 0.2730, "color": "#fff"},
              {"offset": 0.2771, "color": "#fff"}, {"offset": 0.2812, "color": "#000"}, {"offset": 0.2854, "color": "#fff"},
              {"offset": 0.2895, "color": "#fff"}, {"offset": 0.2936, "color": "#000"}, {"offset": 0.2978, "color": "#fff"},
              {"offset": 0.3019, "color": "#fff"}, {"offset": 0.3060, "color": "#000"}, {"offset": 0.3102, "color": "#fff"},
              {"offset": 0.3143, "color": "#fff"}, {"offset": 0.3184, "color": "#000"}, {"offset": 0.3226, "color": "#fff"},
              {"offset": 0.3267, "color": "#fff"}, {"offset": 0.3308, "color": "#000"}, {"offset": 0.3350, "color": "#fff"},
              {"offset": 0.3391, "color": "#fff"}, {"offset": 0.3432, "color": "#000"}, {"offset": 0.3474, "color": "#fff"},
              {"offset": 0.3515, "color": "#fff"}, {"offset": 0.3556, "color": "#000"}, {"offset": 0.3598, "color": "#fff"},
              {"offset": 0.3639, "color": "#fff"}, {"offset": 0.3680, "color": "#000"}, {"offset": 0.3722, "color": "#fff"},
              {"offset": 0.3764, "color": "#fff"}, {"offset": 0.3805, "color": "#000"}, {"offset": 0.3847, "color": "#fff"},
              {"offset": 0.3888, "color": "#fff"}, {"offset": 0.3929, "color": "#000"}, {"offset": 0.3971, "color": "#fff"},
              {"offset": 0.4012, "color": "#fff"}, {"offset": 0.4053, "color": "#000"}, {"offset": 0.4095, "color": "#fff"},
              {"offset": 0.4136, "color": "#fff"}, {"offset": 0.4177, "color": "#000"}, {"offset": 0.4219, "color": "#fff"},
              {"offset": 0.4260, "color": "#fff"}, {"offset": 0.4301, "color": "#000"}, {"offset": 0.4343, "color": "#fff"},
              {"offset": 0.4384, "color": "#fff"}, {"offset": 0.4425, "color": "#000"}, {"offset": 0.4467, "color": "#fff"},
              {"offset": 0.4508, "color": "#fff"}, {"offset": 0.4549, "color": "#000"}, {"offset": 0.4591, "color": "#fff"},
              {"offset": 0.4632, "color": "#fff"}, {"offset": 0.4673, "color": "#000"}, {"offset": 0.4715, "color": "#fff"},
              {"offset": 0.4757, "color": "#fff"}, {"offset": 0.4798, "color": "#000"}, {"offset": 0.4840, "color": "#fff"},
              {"offset": 0.4881, "color": "#fff"}, {"offset": 0.4922, "color": "#000"}, {"offset": 0.4964, "color": "#fff"},
              {"offset": 0.5005, "color": "#fff"}, {"offset": 0.5046, "color": "#000"}, {"offset": 0.5088, "color": "#fff"},
              {"offset": 0.5129, "color": "#fff"}, {"offset": 0.5170, "color": "#000"}, {"offset": 0.5212, "color": "#fff"},
              {"offset": 0.5253, "color": "#fff"}, {"offset": 0.5294, "color": "#000"}, {"offset": 0.5336, "color": "#fff"},
              {"offset": 0.5377, "color": "#fff"}, {"offset": 0.5418, "color": "#000"}, {"offset": 0.5460, "color": "#fff"},
              {"offset": 0.5501, "color": "#fff"}, {"offset": 0.5542, "color": "#000"}, {"offset": 0.5584, "color": "#fff"},
              {"offset": 0.5625, "color": "#fff"}, {"offset": 0.5666, "color": "#000"}, {"offset": 0.5708, "color": "#fff"},
              {"offset": 0.5750, "color": "#fff"}, {"offset": 0.5791, "color": "#000"}, {"offset": 0.5833, "color": "#fff"},
              {"offset": 0.5874, "color": "#fff"}, {"offset": 0.5915, "color": "#000"}, {"offset": 0.5957, "color": "#fff"},
              {"offset": 0.5998, "color": "#fff"}, {"offset": 0.6039, "color": "#000"}, {"offset": 0.6081, "color": "#fff"},
              {"offset": 0.6122, "color": "#fff"}, {"offset": 0.6163, "color": "#000"}, {"offset": 0.6205, "color": "#fff"},
              {"offset": 0.6246, "color": "#fff"}, {"offset": 0.6287, "color": "#000"}, {"offset": 0.6329, "color": "#fff"},
              {"offset": 0.6370, "color": "#fff"}, {"offset": 0.6411, "color": "#000"}, {"offset": 0.6453, "color": "#fff"},
              {"offset": 0.6494, "color": "#fff"}, {"offset": 0.6535, "color": "#000"}, {"offset": 0.6577, "color": "#fff"},
              {"offset": 0.6618, "color": "#fff"}, {"offset": 0.6659, "color": "#000"}, {"offset": 0.6701, "color": "#fff"},
              {"offset": 0.6742, "color": "#fff"}, {"offset": 0.6783, "color": "#000"}, {"offset": 0.6825, "color": "#fff"},
              {"offset": 0.6867, "color": "#fff"}, {"offset": 0.6908, "color": "#000"}, {"offset": 0.6950, "color": "#fff"},
              {"offset": 0.6991, "color": "#fff"}, {"offset": 0.7032, "color": "#000"}, {"offset": 0.7074, "color": "#fff"},
              {"offset": 0.7115, "color": "#fff"}, {"offset": 0.7156, "color": "#000"}, {"offset": 0.7198, "color": "#fff"},
              {"offset": 0.7239, "color": "#fff"}, {"offset": 0.7280, "color": "#000"}, {"offset": 0.7322, "color": "#fff"},
              {"offset": 0.7363, "color": "#fff"}, {"offset": 0.7404, "color": "#000"}, {"offset": 0.7446, "color": "#fff"},
              {"offset": 0.7487, "color": "#fff"}, {"offset": 0.7528, "color": "#000"}, {"offset": 0.7570, "color": "#fff"},
              {"offset": 0.7611, "color": "#fff"}, {"offset": 0.7652, "color": "#000"}, {"offset": 0.7694, "color": "#fff"},
              {"offset": 0.7735, "color": "#fff"}, {"offset": 0.7776, "color": "#000"}, {"offset": 0.7818, "color": "#fff"},
              {"offset": 0.7860, "color": "#fff"}, {"offset": 0.7901, "color": "#000"}, {"offset": 0.7943, "color": "#fff"},
              {"offset": 0.7984, "color": "#fff"}, {"offset": 0.8025, "color": "#000"}, {"offset": 0.8067, "color": "#fff"},
              {"offset": 0.8108, "color": "#fff"}, {"offset": 0.8149, "color": "#000"}, {"offset": 0.8191, "color": "#fff"},
              {"offset": 0.8232, "color": "#fff"}, {"offset": 0.8273, "color": "#000"}, {"offset": 0.8315, "color": "#fff"},
              {"offset": 0.8356, "color": "#fff"}, {"offset": 0.8397, "color": "#000"}, {"offset": 0.8439, "color": "#fff"},
              {"offset": 0.8480, "color": "#fff"}, {"offset": 0.8521, "color": "#000"}, {"offset": 0.8563, "color": "#fff"},
              {"offset": 0.8604, "color": "#fff"}, {"offset": 0.8645, "color": "#000"}, {"offset": 0.8687, "color": "#fff"},
              {"offset": 0.8728, "color": "#fff"}, {"offset": 0.8769, "color": "#000"}, {"offset": 0.8811, "color": "#fff"},
              {"offset": 0.8853, "color": "#fff"}, {"offset": 0.8894, "color": "#000"}, {"offset": 0.8936, "color": "#fff"},
              {"offset": 0.8977, "color": "#fff"}, {"offset": 0.9018, "color": "#000"}, {"offset": 0.9060, "color": "#fff"},
              {"offset": 0.9101, "color": "#fff"}, {"offset": 0.9142, "color": "#000"}, {"offset": 0.9184, "color": "#fff"},
              {"offset": 0.9225, "color": "#fff"}, {"offset": 0.9266, "color": "#000"}, {"offset": 0.9308, "color": "#fff"},
              {"offset": 0.9349, "color": "#fff"}, {"offset": 0.9390, "color": "#000"}, {"offset": 0.9432, "color": "#fff"},
              {"offset": 0.9473, "color": "#fff"}, {"offset": 0.9514, "color": "#000"}, {"offset": 0.9556, "color": "#fff"},
              {"offset": 0.9597, "color": "#fff"}, {"offset": 0.9638, "color": "#000"}, {"offset": 0.9680, "color": "#fff"},
              {"offset": 0.9721, "color": "#fff"}, {"offset": 0.9762, "color": "#000"}, {"offset": 0.9804, "color": "#fff"},
              {"offset": 0.9845, "color": "#fff"}, {"offset": 0.9886, "color": "#000"}, {"offset": 0.9928, "color": "#fff"}
            ]}}
          ],
          "field": "name",
          "type": "nominal",
          "legend": null,
          "scale": {
            "domain": ["Cytoplasm, cytosol, cytoskeleton", "ER-Golgi", "Mitochondria", "Nucleus", "Lysosome", "Plasma membrane", "Secreted protein", "Metabolism", "Cellular organization", "Signal transduction", "Redox", "Transcription", "Transport"],
            "range": ["#8a8a8a", "#3c3c3c", "#c6c6c6", "#d2d2d2", "#959595", "#eeeeee", "#161616", "#dddddd", "#9a9a9a", "#e2e2e2", "#a4a4a4", "#858585", "#000000"]
          }
        }
      }
    },
    {
      "data": {"name": "leaders"},
      "mark": {"type": "line", "color": "#000", "strokeWidth": 2, "interpolate": "linear"},
      "encoding": {
        "x": {"field": "x", "type": "quantitative", "scale": {"domain": [0, 1159], "nice": false, "zero": false}, "axis": null},
        "y": {"field": "y", "type": "quantitative", "scale": {"domain": [0, 1654], "reverse": true, "nice": false, "zero": false}, "axis": null},
        "detail": {"field": "id", "type": "nominal"},
        "order": {"field": "seq", "type": "quantitative"}
      }
    },
    {
      "data": {"name": "labels"},
      "mark": {"type": "text", "font": "Liberation Sans", "fontWeight": "bold", "fontSize": 27, "align": "center", "baseline": "middle", "color": "#000"},
      "encoding": {
        "x": {"field": "x", "type": "quantitative", "scale": {"domain": [0, 1159], "nice": false, "zero": false}, "axis": null},
        "y": {"field": "y", "type": "quantitative", "scale": {"domain": [0, 1654], "reverse": true, "nice": false, "zero": false}, "axis": null},
        "text": {"field": "text", "type": "nominal"}
      }
    },
    {
      "data": {"name": "panels"},
      "mark": {"type": "text", "font": "Liberation Sans", "fontWeight": "bold", "fontSize": 26, "align": "center", "baseline": "middle", "color": "#000"},
      "encoding": {
        "x": {"field": "x", "type": "quantitative", "scale": {"domain": [0, 1159], "nice": false, "zero": false}, "axis": null},
        "y": {"field": "y", "type": "quantitative", "scale": {"domain": [0, 1654], "reverse": true, "nice": false, "zero": false}, "axis": null},
        "text": {"field": "text", "type": "nominal"}
      }
    }
  ],
  "resolve": {"scale": {"theta": "independent"}}
}
